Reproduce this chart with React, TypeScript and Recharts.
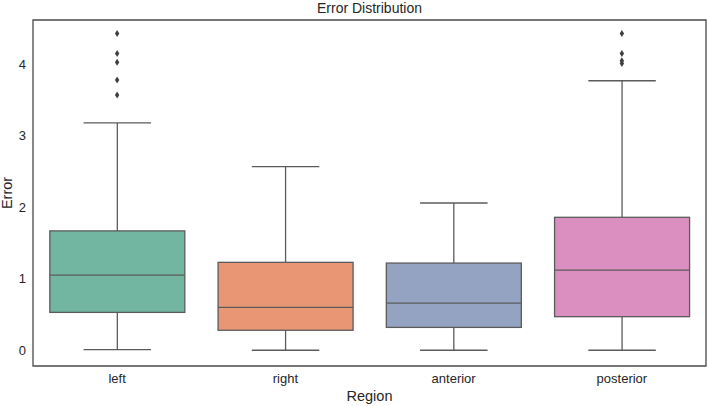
import { ComposedChart, Bar, Scatter, XAxis, YAxis, ReferenceArea } from 'recharts';

const regions = ['left', 'right', 'anterior', 'posterior'];
const whiskerLow = [0.01, 0.0, 0.0, 0.0];
const q1 = [0.53, 0.28, 0.32, 0.47];
const median = [1.05, 0.6, 0.66, 1.12];
const q3 = [1.67, 1.23, 1.22, 1.86];
const whiskerHigh = [3.18, 2.57, 2.06, 3.77];
const outliers: number[][] = [
  [4.43, 4.15, 4.03, 3.78, 3.57],
  [],
  [],
  [4.43, 4.15, 4.05, 4.01],
];
const yTicks = [0, 1, 2, 3, 4];
const yMin = -0.22;
const yMax = 4.62;
const colors = ['#72b6a1', '#e99675', '#95a3c3', '#da8fc0'];

const outlierKeys = ['o0', 'o1', 'o2', 'o3', 'o4'];

const data = regions.map((region, i) => {
  const row: any = {
    region,
    range: [whiskerLow[i], whiskerHigh[i]],
    q1: q1[i],
    median: median[i],
    q3: q3[i],
  };
  outlierKeys.forEach((k, j) => {
    row[k] = outliers[i][j] ?? null;
  });
  return row;
});

const LINE = '#5b5b5b';
const FONT = '"Liberation Sans", Arial, sans-serif';

const BoxShape = (props: any) => {
  const { x, y, width, height, payload, index } = props;
  const [lo, hi] = payload.range;
  const per = height / (hi - lo);
  const yOf = (v: number) => y + (hi - v) * per;
  const cx = x + width / 2;
  const capW = width / 2;
  const boxTop = yOf(payload.q3);
  const boxBot = yOf(payload.q1);
  return (
    <g>
      <line x1={cx} x2={cx} y1={yOf(hi)} y2={boxTop} stroke={LINE} strokeWidth={1.3} />
      <line x1={cx} x2={cx} y1={boxBot} y2={yOf(lo)} stroke={LINE} strokeWidth={1.3} />
      <line x1={cx - capW / 2} x2={cx + capW / 2} y1={yOf(hi)} y2={yOf(hi)} stroke={LINE} strokeWidth={1.3} />
      <line x1={cx - capW / 2} x2={cx + capW / 2} y1={yOf(lo)} y2={yOf(lo)} stroke={LINE} strokeWidth={1.3} />
      <rect x={x} y={boxTop} width={width} height={boxBot - boxTop} fill={colors[index]} stroke={LINE} strokeWidth={1.3} />
      <line x1={x} x2={x + width} y1={yOf(payload.median)} y2={yOf(payload.median)} stroke={LINE} strokeWidth={1.3} />
    </g>
  );
};

const Diamond = (props: any) => {
  const { cx, cy } = props;
  if (cx == null || cy == null || isNaN(cx) || isNaN(cy)) return <g />;
  return <path d={`M${cx},${cy - 3.5} L${cx + 2.2},${cy} L${cx},${cy + 3.5} L${cx - 2.2},${cy} Z`} fill="#404040" />;
};

export default function App() {
  return (
    <div style={{ position: 'absolute', left: 0, top: 0, width: 708, height: 406, background: '#fff', fontFamily: FONT }}>
      <div style={{ position: 'absolute', left: 0, width: 739, top: 0, textAlign: 'center', fontSize: 14, color: '#262626', lineHeight: '17px' }}>
        Error Distribution
      </div>
      <ComposedChart
        width={708}
        height={406}
        data={data}
        margin={{ top: 20, right: 2, bottom: 0, left: 0 }}
        barCategoryGap="10%"
      >
        <XAxis
          dataKey="region"
          height={40}
          axisLine={false}
          tickLine={false}
          tickSize={0}
          tickMargin={8}
          tick={{ fill: '#262626', fontSize: 13, fontFamily: FONT }}
          label={{
            content: (p: any) => {
              const vb = p.viewBox;
              const cx = vb.x + vb.width / 2;
              return (
                <text x={cx} y={396} textAnchor="middle" dominantBaseline="central" fill="#262626" fontSize={14.5} fontFamily={FONT}>
                  Region
                </text>
              );
            },
          }}
        />
        <YAxis
          width={33}
          domain={[yMin, yMax]}
          ticks={yTicks}
          allowDataOverflow
          axisLine={false}
          tickLine={false}
          tickSize={0}
          tickMargin={7}
          tick={{ fill: '#262626', fontSize: 13, fontFamily: FONT }}
          label={{
            content: (p: any) => {
              const vb = p.viewBox;
              const cy = vb.y + vb.height / 2;
              return (
                <text x={7} y={cy} transform={`rotate(-90, 7, ${cy})`} textAnchor="middle" dominantBaseline="central" fill="#262626" fontSize={14.5} fontFamily={FONT}>
                  Error
                </text>
              );
            },
          }}
        />
        <ReferenceArea y1={yMin} y2={yMax} ifOverflow="visible" fill="none" fillOpacity={0} stroke="#4a4a4a" strokeWidth={1.3} />
        <Bar dataKey="range" isAnimationActive={false} shape={<BoxShape />} />
        {outlierKeys.map((k) => (
          <Scatter key={k} dataKey={k} isAnimationActive={false} shape={<Diamond />} />
        ))}
      </ComposedChart>
    </div>
  );
}
